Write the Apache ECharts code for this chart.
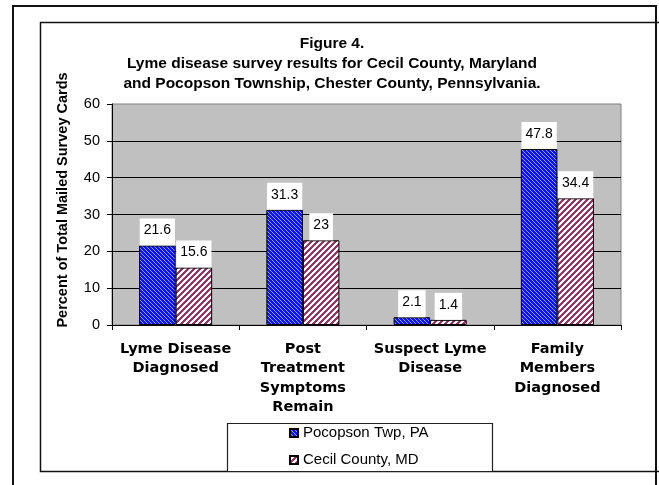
<!DOCTYPE html>
<html>
<head>
<meta charset="utf-8">
<script src="https://cdn.jsdelivr.net/npm/echarts@6/dist/echarts.min.js"></script>
<style>
html,body{margin:0;padding:0;background:#fff;}
#chart{width:659px;height:485px;}
</style>
</head>
<body>
<div id="chart"></div>
<script>
const titleLines = ['Figure 4.', 'Lyme disease survey results for Cecil County, Maryland', 'and Pocopson Township, Chester County, Pennsylvania.'];
const yAxisTitle = 'Percent of Total Mailed Survey Cards';
const categories = ['Lyme Disease\nDiagnosed', 'Post\nTreatment\nSymptoms\nRemain', 'Suspect Lyme\nDisease', 'Family\nMembers\nDiagnosed'];
const seriesNames = ['Pocopson Twp, PA', 'Cecil County, MD'];
const pocopson = [21.6, 31.3, 2.1, 47.8];
const cecil = [15.6, 23, 1.4, 34.4];
const yMin = 0, yMax = 60, yStep = 10;

function makePattern(size, draw) {
  const c = document.createElement('canvas');
  c.width = size; c.height = size;
  draw(c.getContext('2d'), size);
  return c;
}
const bluePat = makePattern(4, (ctx, s) => {
  ctx.fillStyle = '#0a14ff'; ctx.fillRect(0, 0, s, s);
  ctx.fillStyle = '#9aa4ff';
  for (let i = 0; i < s; i++) ctx.fillRect(i, i, 1, 1);
});
const maroonPat = makePattern(6, (ctx, s) => {
  ctx.fillStyle = '#ffffff'; ctx.fillRect(0, 0, s, s);
  ctx.fillStyle = '#993366';
  for (let y = 0; y < s; y++) {
    for (let k = 0; k < 3; k++) ctx.fillRect((s - 1 - y + k + s) % s, y, 1, 1);
  }
});

const chart = echarts.init(document.getElementById('chart'), null, {renderer: 'canvas'});
const labelCfg = {
  show: true, position: 'top', distance: 0,
  backgroundColor: '#ffffff', padding: [5, 4, 8, 4],
  color: '#000', fontFamily: 'Liberation Sans', fontSize: 14, lineHeight: 14
};
chart.setOption({
  animation: false,
  backgroundColor: '#ffffff',
  textStyle: {fontFamily: 'Liberation Sans'},
  title: {
    text: titleLines.join('\n'),
    left: 327, top: 29, textAlign: 'center',
    textStyle: {fontFamily: 'Liberation Sans', fontWeight: 'bold', fontSize: 15.5, lineHeight: 20, color: '#000'},
    z: 6
  },
  graphic: [
    {type: 'rect', shape: {x: 13, y: 6, width: 643, height: 520}, style: {fill: 'none', stroke: '#111', lineWidth: 2}, z: 0, silent: true},
    {type: 'rect', shape: {x: 40.5, y: 22.5, width: 640, height: 449}, style: {fill: 'none', stroke: '#111', lineWidth: 1.5}, z: 0, silent: true},
    {type: 'rect', shape: {x: 227.5, y: 423.5, width: 265, height: 48}, style: {fill: '#fff', stroke: '#222', lineWidth: 1.2}, z: 1, silent: true},
    {type: 'text', x: 63, y: 200, rotation: Math.PI / 2,
      style: {text: yAxisTitle, fontFamily: 'Liberation Sans', fontWeight: 'bold', fontSize: 14.5, fill: '#000', textAlign: 'center', textVerticalAlign: 'middle'}, z: 5}
  ],
  legend: {
    orient: 'vertical', left: 289, top: 425, padding: 0,
    itemWidth: 8, itemHeight: 8, itemGap: 11,
    icon: 'rect',
    textStyle: {fontFamily: 'Liberation Sans', fontSize: 15, lineHeight: 16, color: '#000'},
    data: seriesNames, z: 5
  },
  grid: {
    left: 112, right: 38, top: 104, bottom: 160,
    show: true, backgroundColor: '#c0c0c0', borderColor: '#808080', borderWidth: 1
  },
  xAxis: {
    type: 'category', data: categories,
    axisLine: {lineStyle: {color: '#000', width: 1}},
    axisTick: {show: true, length: 5, lineStyle: {color: '#000'}},
    axisLabel: {interval: 0, margin: 14, fontFamily: 'DejaVu Sans', fontWeight: 'bold', fontSize: 14.5, lineHeight: 19.5, color: '#000'}
  },
  yAxis: {
    type: 'value', min: yMin, max: yMax, interval: yStep,
    axisLine: {show: true, lineStyle: {color: '#000', width: 1}},
    axisTick: {show: true, length: 5, lineStyle: {color: '#000'}},
    axisLabel: {margin: 12, fontFamily: 'Liberation Sans', fontSize: 14.5, color: '#000'},
    splitLine: {show: true, showMaxLine: false, lineStyle: {color: '#000', width: 1}}
  },
  series: [
    {name: seriesNames[0], type: 'bar', data: pocopson, barWidth: '28.7%', barGap: '0%',
      itemStyle: {color: {image: bluePat, repeat: 'repeat'}, borderColor: '#000', borderWidth: 1},
      label: labelCfg},
    {name: seriesNames[1], type: 'bar', data: cecil, barWidth: '28.7%', barGap: '0%',
      itemStyle: {color: {image: maroonPat, repeat: 'repeat'}, borderColor: '#000', borderWidth: 1},
      label: labelCfg}
  ]
});
</script>
</body>
</html>
